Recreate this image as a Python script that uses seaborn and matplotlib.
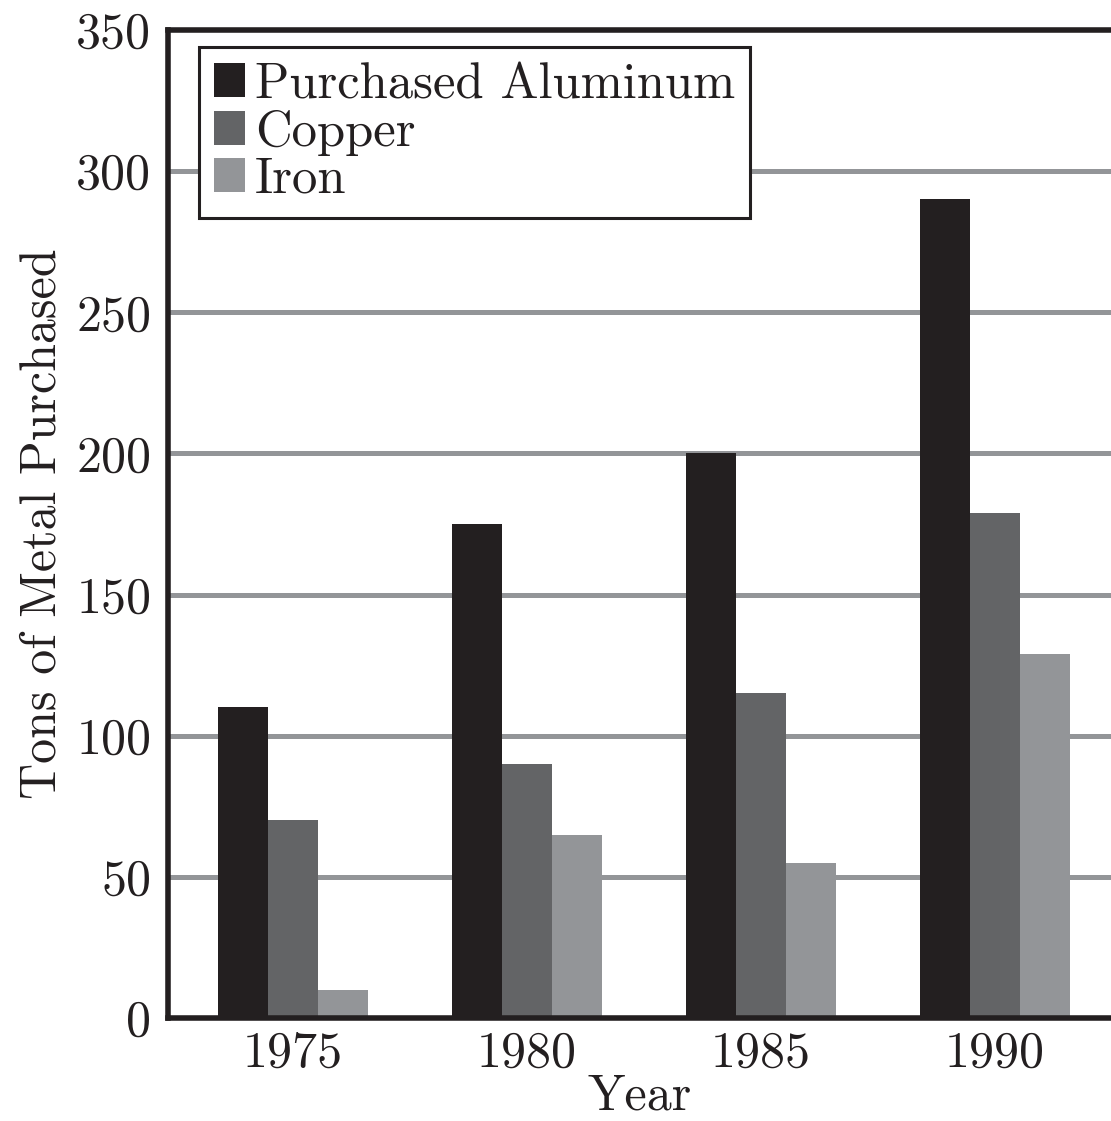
import matplotlib
matplotlib.use("Agg")
import matplotlib.pyplot as plt
import seaborn as sns
import pandas as pd

years = ["1975", "1980", "1985", "1990"]
aluminum = [110, 175, 200, 290]
copper = [70, 90, 115, 179]
iron = [10, 65, 55, 129]
series_names = ["Purchased Aluminum", "Copper", "Iron"]
colors = ["#231f20", "#636466", "#939598"]
yticks = [0, 50, 100, 150, 200, 250, 300, 350]

rows = []
for name, vals in zip(series_names, [aluminum, copper, iron]):
    for y, v in zip(years, vals):
        rows.append({"Year": y, "Tons": v, "Metal": name})
df = pd.DataFrame(rows)

sns.set_theme(style="white")
plt.rcParams["font.family"] = ["cmr10", "DejaVu Serif"]
plt.rcParams["axes.formatter.use_mathtext"] = True
plt.rcParams["mathtext.fontset"] = "cm"

fig = plt.figure(figsize=(11.11, 11.21), dpi=100)
ax = fig.add_axes([168 / 1111, 1 - 1018 / 1121, 1 - 168 / 1111, (1018 - 30) / 1121])

for t in yticks[1:-1]:
    ax.axhline(t, color="#939598", lw=3.6, zorder=0)

sns.barplot(data=df, x="Year", y="Tons", hue="Metal", palette=colors,
            hue_order=series_names, order=years, width=0.64, gap=0,
            saturation=1, ax=ax, zorder=2, linewidth=0)

ax.set_ylim(0, 350)
ax.set_xlim(-0.534, 3.496)
ax.set_yticks(yticks)
ax.set_yticklabels([str(t) for t in yticks])
fs = 36
ax.tick_params(axis="y", labelsize=fs, length=0, pad=12, colors="#231f20")
ax.tick_params(axis="x", labelsize=fs, length=0, pad=9, colors="#231f20")
ax.set_xlabel("Year", fontsize=fs, color="#231f20", labelpad=-2)
ax.set_ylabel("Tons of Metal Purchased", fontsize=fs, color="#231f20", labelpad=8)

for s in ["left", "bottom", "top"]:
    ax.spines[s].set_visible(True)
    ax.spines[s].set_color("#231f20")
    ax.spines[s].set_linewidth(4)
    ax.spines[s].set_zorder(5)
ax.spines["right"].set_visible(False)

leg = ax.legend(loc="upper left", bbox_to_anchor=((199 - 168) / 943, 1 - (47 - 30) / 988),
                borderaxespad=0, fontsize=fs + 0.5, frameon=True, fancybox=False,
                edgecolor="#231f20", framealpha=1, handlelength=0.6, handleheight=0.65,
                handletextpad=0.2, labelspacing=0.03, borderpad=0.3, title=None)
leg.get_frame().set_linewidth(2.2)
for t in leg.get_texts():
    t.set_color("#231f20")

fig.savefig("out.png", dpi=100)
